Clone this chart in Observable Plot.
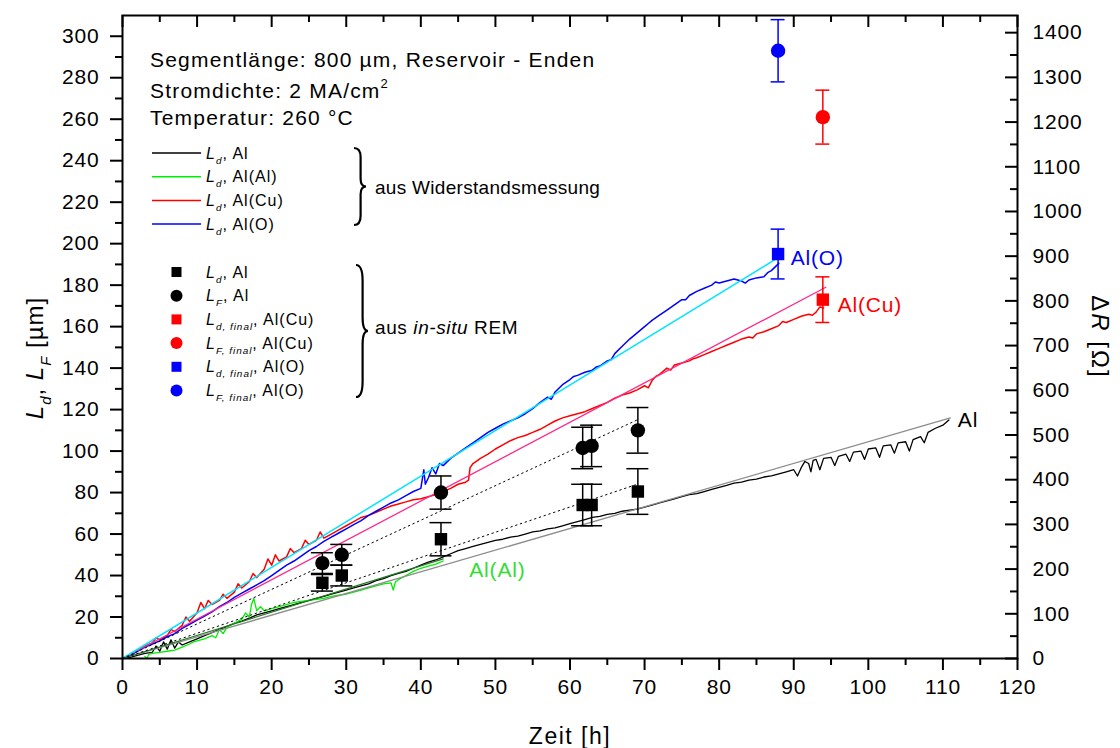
<!DOCTYPE html>
<html><head><meta charset="utf-8">
<script src="https://cdn.jsdelivr.net/npm/d3@7"></script>
<script src="https://cdn.jsdelivr.net/npm/@observablehq/plot@0.6"></script>
<style>body{margin:0;background:#fff}</style>
</head><body><div id="chart"></div>
<script>
// ---------- data ----------
// resistance-derived drift lengths [h, µm]
const ldAl = [[0,0],[1,0.5],[2,1.5],[3,2.5],[4,3],[4.5,6],[5,3.5],[5.5,8],[6,4.5],[6.5,9],[7,5],[7.5,8],[8,6.5],[9,8],[10,9.5],[11,11],[12,12.5],[13,14],[14,15.5],[15,17],[16,18],[17,19.5],[18,21],[19,22],[20,23],[21,24],[22,25],[23,26],[24,27],[25,28],[26,29],[27,30],[28,31],[29,32],[30,33],[31,34],[32,35],[33,36],[34,37.5],[35,38.5],[36,40],[37,41],[38,42],[39,43.5],[40,45],[41,46.5],[42,47.5],[43,49],[44,50.5],[45,52],[46,53],[47,54],[48,55],[49,56],[50,57],[51,57.5],[52,58.5],[53,59],[54,60],[55,61],[56,61.5],[57,62.5],[58,63],[59,64],[60,65],[61,66],[62,67],[63,68],[64,68.5],[65,69.5],[66,70],[67,71],[68,71.5],[69,72],[70,73],[71,74],[72,75],[73,76],[74,77],[75,78],[76,79],[77,79.5],[78,80.5],[79,81.5],[80,82.5],[81,83.5],[82,84.5],[83,85],[84,86],[85,86.5],[86,87.5],[87,88],[88,89],[89,90],[90,91],[90.5,88],[91,92],[91.5,95],[92,94],[92.3,90],[92.6,95.5],[93,96],[93.5,91],[94,96.5],[95,97],[95.5,93],[96,97.5],[97,98.5],[97.5,95],[98,99.5],[99,100],[99.5,96],[100,101],[101,101.5],[101.5,97],[102,102.5],[103,103],[103.5,99],[104,104],[105,104.5],[105.5,100],[106,105.5],[107,107],[107.5,104],[108,109],[109,111],[110,112.5],[110.8,115]];
const ldAlAl = [[3,1],[3.3,0],[3.5,2],[4,2.5],[5,3],[6,3.5],[7,4],[8,5.5],[9,7],[9.5,8],[10,8.5],[11,9.5],[12,11],[12.5,10],[13,14],[13.5,12],[14,15],[15,17],[16,19],[16.5,22],[17,20],[17.3,26],[17.6,29],[18,23],[18.5,25],[19,23],[20,24],[21,25],[22,26],[23,27],[24,27.5],[25,28],[26,28.5],[27,29],[28,30],[29,30.5],[30,31],[31,32],[32,33],[33,34],[34,35],[35,36],[36,36.5],[36.3,33],[36.6,37],[37,38],[38,40],[39,42],[40,43.5],[41,44.5],[42,45.5],[43,47]];
const ldAlCu = [[0,0],[1,2],[2,4],[3,6],[4,7.5],[4.5,10],[5,9],[6,11],[6.5,14],[7,13],[8,16],[8.5,20],[9,18],[10,22],[10.5,27],[11,24],[11.5,28],[12,26],[13,28],[13.5,31],[14,29],[15,32],[15.5,36],[16,34],[17,37],[17.5,41],[18,39],[19,43],[19.5,48],[20,45],[20.5,50],[21,47],[22,49],[22.5,53],[23,51],[24,53],[24.5,57],[25,55],[26,57],[26.5,61],[27,58],[28,60],[29,62],[30,64],[31,66],[32,68],[33,69],[34,70.5],[35,72],[36,73.5],[37,74.5],[38,75.5],[39,76.5],[40,77],[41,78],[42,79],[43,80.5],[44,82],[45,84],[46,85],[46.4,86],[46.6,92],[47,94],[48,96.5],[49,98.5],[50,101],[51,103],[52,105],[53,106.5],[54,107.5],[55,109],[56,110.5],[57,112.5],[58,114.5],[59,116],[60,117],[61,118],[62,119],[63,120.5],[64,122],[65,123.5],[66,125.5],[67,127],[68,128],[69,129.5],[70,131.5],[70.5,130.5],[71,134],[71.5,136],[72,137],[73,140],[73.5,139],[74,141.5],[75,142.5],[76,143.5],[76.5,144.5],[77,145],[78,146.5],[79,148],[80,149.5],[81,151],[82,152.5],[83,154],[84,155],[84.5,154.5],[85,156.5],[86,157.5],[87,159],[88,160.5],[88.5,162.5],[89,162],[90,163.5],[91,165],[92,166],[92.5,165.5],[93,167],[93.5,169.5],[94,169]];
const ldAlO = [[0,0],[1,1.5],[2,3.5],[3,5.5],[4,7],[5,8.5],[6,10.5],[7,12],[8,14.5],[9,16.5],[10,18.5],[11,20.5],[12,22.5],[13,25],[14,27],[15,29.5],[16,31.5],[17,33.5],[18,35.5],[19,37.5],[20,40],[21,42.5],[22,45],[23,47],[24,49.5],[25,52],[26,54],[27,56.5],[28,58.5],[29,60.5],[30,62.5],[31,64.5],[32,66.5],[33,69],[34,71],[35,73],[36,75],[37,76.5],[38,78.5],[39,80.5],[40,82],[40.4,91],[40.6,84],[41,87],[41.5,92],[42,89],[42.5,94],[43,93],[44,96.5],[45,99],[46,101.5],[47,104],[48,106.5],[49,109],[50,111],[51,113],[52,114.5],[53,116],[54,118],[55,120.5],[56,123.5],[57,126],[57.5,125],[58,128.5],[59,132],[60,134.5],[60.5,136],[61,136.5],[62,138],[63,139],[63.5,140.5],[64,141],[65,143.5],[65.5,144],[66,147],[67,150.5],[68,154],[69,157],[70,160],[70.5,161.5],[71,163],[72,165.5],[73,168],[74,170.5],[75,173],[75.5,173],[76,175],[77,177],[78,178.5],[79,180],[79.5,181.5],[80,181],[81,182],[82,183],[83,182],[83.5,181],[84,182.5],[85,183.5],[86,184],[86.5,186],[87,187],[88,190.5]];
// linear fits / guide lines [h, µm]
const fitAl = [[0,0],[111,116]];
const fitAlAl = [[0,0],[43,48]];
const fitAlCu = [[0,0],[94.3,179]];
const fitAlO = [[0,0],[87.8,193]];
const guideLd = [[0,0],[69,84]];
const guideLF = [[0,0],[69,115]];
// in-situ SEM points, Al
const semTime = [26.8, 29.4, 42.7, 61.7, 62.9, 69.1];
const semLd = [36.5, 40, 57.5, 74, 74, 80.5];
const semLdErr = [4, 5, 8, 10, 10, 11];
const semLF = [46, 50, 80, 101.5, 102.5, 110];
const semLFErr = [5, 5, 8, 10, 10, 11];
// final values
const finalSample = ["Al(Cu)", "Al(O)"];
const finalTime = [93.9, 87.9];
const finalLd = [173, 195];
const finalLdErr = [11, 12];
const finalLF = [261, 293];
const finalLFErr = [13, 15];
// ticks
const xMajor = d3.range(0, 121, 10);
const xMinor = d3.range(5, 120, 10);
const yMajor = d3.range(0, 301, 20);
const yMinor = d3.range(10, 300, 20);
const rMajor = d3.range(0, 1401, 100);
const rMinor = d3.range(50, 1400, 100);
const K = 4.64; // Ω per µm (right axis / left axis)
// annotations
const annoText = ["Al(O)", "Al(Cu)", "Al", "Al(Al)"];
const annoX = [89.6, 95.9, 112, 46.5];
const annoY = [193, 170.5, 115, 42.5];

// ---------- styles ----------
const C = {al:"#000000", alal:"#00ee00", alcu:"#ff0000", alo:"#0000ff", cyan:"#00e5ff", pink:"#ff2a8a", gray:"#8c8c8c", dgreen:"#1f7a1f"};
const annoColor = [C.alo, C.alcu, C.al, "#33dd33"];
const finalColor = [C.alcu, C.alo];
const W = 1120, H = 748, mL = 122, mR = 103, mT = 15, mB = 90;
const pW = W - mL - mR, pH = H - mT - mB;
const FONT = "Liberation Sans, Arial, Helvetica, sans-serif";

const idx6 = d3.range(semTime.length), idx2 = d3.range(finalTime.length);
const capB = 11 / (pW / 120), capC = 7 / (pW / 120);

const marks = [
  Plot.line(ldAl, {stroke: C.al, strokeWidth: 1.3}),
  Plot.line(ldAlAl, {stroke: C.alal, strokeWidth: 1.3}),
  Plot.line(ldAlCu, {stroke: C.alcu, strokeWidth: 1.5}),
  Plot.line(ldAlO, {stroke: C.alo, strokeWidth: 1.5}),
  Plot.line(fitAl, {stroke: C.gray, strokeWidth: 1.3}),
  Plot.line(fitAlAl, {stroke: C.dgreen, strokeWidth: 1.2}),
  Plot.line(fitAlCu, {stroke: C.pink, strokeWidth: 1.3}),
  Plot.line(fitAlO, {stroke: C.cyan, strokeWidth: 1.5}),
  Plot.line(guideLd, {stroke: "black", strokeWidth: 1, strokeDasharray: "1.5,3.5"}),
  Plot.line(guideLF, {stroke: "black", strokeWidth: 1, strokeDasharray: "1.5,3.5"}),
  Plot.ruleX(idx6, {x: i => semTime[i], y1: i => semLd[i] - semLdErr[i], y2: i => semLd[i] + semLdErr[i], stroke: "black", strokeWidth: 1.5}),
  Plot.ruleX(idx6, {x: i => semTime[i], y1: i => semLF[i] - semLFErr[i], y2: i => semLF[i] + semLFErr[i], stroke: "black", strokeWidth: 1.5}),
  ...[semLd, semLF].flatMap((v, k) => {
    const e = k ? semLFErr : semLdErr;
    return [-1, 1].map(s => Plot.ruleY(idx6, {y: i => v[i] + s * e[i], x1: i => semTime[i] - capB, x2: i => semTime[i] + capB, stroke: "black", strokeWidth: 1.5}));
  }),
  Plot.dot(idx6, {x: i => semTime[i], y: i => semLd[i], symbol: "square", r: 7, fill: "black", stroke: "none"}),
  Plot.dot(idx6, {x: i => semTime[i], y: i => semLF[i], symbol: "circle", r: 7.2, fill: "black", stroke: "none"}),
  ...idx2.flatMap(i => [
    Plot.ruleX([0], {x: finalTime[i], y1: finalLd[i] - finalLdErr[i], y2: finalLd[i] + finalLdErr[i], stroke: finalColor[i], strokeWidth: 1.5}),
    Plot.ruleX([0], {x: finalTime[i], y1: finalLF[i] - finalLFErr[i], y2: finalLF[i] + finalLFErr[i], stroke: finalColor[i], strokeWidth: 1.5}),
    ...[finalLd[i] - finalLdErr[i], finalLd[i] + finalLdErr[i], finalLF[i] - finalLFErr[i], finalLF[i] + finalLFErr[i]].map(yy =>
      Plot.ruleY([0], {y: yy, x1: finalTime[i] - capC, x2: finalTime[i] + capC, stroke: finalColor[i], strokeWidth: 1.5})),
    Plot.dot([0], {x: finalTime[i], y: finalLd[i], symbol: "square", r: 7, fill: finalColor[i], stroke: "none"}),
    Plot.dot([0], {x: finalTime[i], y: finalLF[i], symbol: "circle", r: 7.2, fill: finalColor[i], stroke: "none"})
  ]),
  ...annoText.map((t, i) => Plot.text([t], {x: annoX[i], y: annoY[i], text: d => d, fill: annoColor[i], textAnchor: "start", fontSize: 21})),
  Plot.frame({stroke: "black", strokeWidth: 2}),
  Plot.axisX(xMajor, {anchor: "bottom", tickSize: 12, tickPadding: 9, fontSize: 21, strokeWidth: 2, label: null}),
  Plot.tickX(xMinor, {insetTop: pH, insetBottom: -7, strokeWidth: 2}),
  Plot.tickX(xMajor, {insetBottom: pH - 12, strokeWidth: 2}),
  Plot.tickX(xMinor, {insetBottom: pH - 7, strokeWidth: 2}),
  Plot.axisY(yMajor, {anchor: "left", tickSize: 12, tickPadding: 11, fontSize: 21, strokeWidth: 2, label: null}),
  Plot.tickY(yMinor, {insetRight: pW, insetLeft: -7, strokeWidth: 2}),
  Plot.axisY(rMajor.map(v => v / K), {anchor: "right", tickSize: 0, tickPadding: 15, fontSize: 21, label: null, tickFormat: d => String(Math.round(d * K))}),
  Plot.tickY(rMajor.map(v => v / K), {insetLeft: pW - 12, strokeWidth: 2}),
  Plot.tickY(rMinor.map(v => v / K), {insetLeft: pW - 7, strokeWidth: 2})
];

const plot = Plot.plot({
  width: W, height: H,
  marginLeft: mL, marginRight: mR, marginTop: mT, marginBottom: mB,
  x: {domain: [0, 120]},
  y: {domain: [0, 310]},
  style: {fontFamily: FONT, fontSize: "21px", color: "black", background: "white", overflow: "visible", letterSpacing: "0.8px"},
  marks
});
document.getElementById("chart").appendChild(plot);

// ---------- rich text (titles, legend) ----------
const svg = d3.select(plot);
const g = svg.append("g").attr("font-family", FONT);
function rich(x, y, parts, o = {}) {
  const size = o.size || 20;
  const t = g.append("text").attr("x", x).attr("y", y).attr("font-size", size)
    .attr("fill", o.fill || "black").attr("text-anchor", o.anchor || "start")
    .attr("letter-spacing", o.ls != null ? o.ls : 0);
  if (o.rotate) t.attr("transform", `rotate(${o.rotate},${x},${y})`);
  let shift = 0;
  for (const p of parts) {
    const s = t.append("tspan").text(p.t);
    if (p.i) s.attr("font-style", "italic");
    const target = p.sub ? 0.32 * size : p.sup ? -0.5 * size : 0;
    if (target !== shift) { s.attr("dy", target - shift); shift = target; }
    if (p.sub || p.sup) s.attr("font-size", size * 0.62);
  }
  return t;
}
// header
rich(150, 67, [{t: "Segmentlänge: 800 µm, Reservoir - Enden"}], {size: 21, ls: 1.2});
rich(150, 98, [{t: "Stromdichte: 2 MA/cm"}, {t: "2", sup: true}], {size: 21, ls: 1.2});
rich(150, 125, [{t: "Temperatur: 260 °C"}], {size: 21, ls: 1.2});

// line legend
const lineLeg = [[C.al, "Al"], [C.alal, "Al(Al)"], [C.alcu, "Al(Cu)"], [C.alo, "Al(O)"]];
lineLeg.forEach(([c, lab], i) => {
  const y = 153 + i * 23.7;
  g.append("line").attr("x1", 152).attr("x2", 201).attr("y1", y).attr("y2", y).attr("stroke", c).attr("stroke-width", 1.5);
  rich(206, y + 5.5, [{t: "L", i: true}, {t: "d", i: true, sub: true}, {t: ", " + lab}], {size: 16, ls: 1});
});
// marker legend
const mkLeg = [["square", "black", "d", "Al"], ["circle", "black", "F", "Al"], ["square", C.alcu, "d, final", "Al(Cu)"], ["circle", C.alcu, "F, final", "Al(Cu)"], ["square", C.alo, "d, final", "Al(O)"], ["circle", C.alo, "F, final", "Al(O)"]];
mkLeg.forEach(([sh, c, sub, lab], i) => {
  const y = 272 + i * 23.7;
  if (sh === "square") g.append("rect").attr("x", 171.5).attr("y", y - 5).attr("width", 10).attr("height", 10).attr("fill", c);
  else g.append("circle").attr("cx", 176.5).attr("cy", y).attr("r", 6).attr("fill", c);
  rich(206, y + 5.5, [{t: "L", i: true}, {t: sub, i: true, sub: true}, {t: ", " + lab}], {size: 16, ls: 1});
});
// braces
function brace(x, y0, y1, w) {
  const ym = (y0 + y1) / 2, xm = x + w * 0.55, h = y1 - y0;
  const d = `M${x},${y0} Q${xm},${y0} ${xm},${y0 + h * 0.12} L${xm},${ym - h * 0.1} Q${xm},${ym} ${x + w},${ym} Q${xm},${ym} ${xm},${ym + h * 0.1} L${xm},${y1 - h * 0.12} Q${xm},${y1} ${x},${y1}`;
  g.append("path").attr("d", d).attr("fill", "none").attr("stroke", "black").attr("stroke-width", 2.2);
}
brace(354, 148, 225, 12);
brace(356, 265, 397, 12);
rich(375, 194, [{t: "aus Widerstandsmessung"}], {size: 19, ls: 0.3});
rich(375, 334, [{t: "aus "}, {t: "in-situ", i: true}, {t: " REM"}], {size: 19, ls: 0.6});

// axis titles
rich(570, 744, [{t: "Zeit [h]"}], {anchor: "middle", size: 23, ls: 1.5});
rich(43, 358, [{t: "L", i: true}, {t: "d", i: true, sub: true}, {t: ", "}, {t: "L", i: true}, {t: "F", i: true, sub: true}, {t: " [µm]"}], {anchor: "middle", rotate: -90, size: 24, ls: 1});
rich(1092, 337, [{t: "Δ"}, {t: "R", i: true}, {t: " [Ω]"}], {anchor: "middle", rotate: 90, size: 24, ls: 2});
</script></body></html>
